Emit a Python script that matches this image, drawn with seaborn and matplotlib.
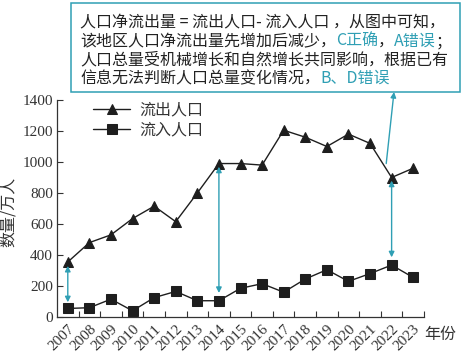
import matplotlib
matplotlib.use("Agg")
import matplotlib.pyplot as plt
from matplotlib.patches import Rectangle
import seaborn as sns
import pandas as pd

# ==============================
# Data
# ==============================
years = list(range(2007, 2024))
outflow = [355, 480, 530, 635, 715, 615, 800, 990, 990, 980, 1205, 1160, 1100, 1180, 1120, 900, 960]
inflow = [55, 60, 115, 40, 125, 165, 105, 105, 185, 215, 160, 245, 305, 230, 280, 335, 255]
y_ticks = [0, 200, 400, 600, 800, 1000, 1200, 1400]

legend_labels = ["流出人口", "流入人口"]
note_lines = [
    [("人口净流出量 = 流出人口- 流入人口 ，从图中可知，", "k")],
    [("该地区人口净流出量先增加后减少，", "k"), ("C正确", "t"), ("，", "k"), ("A错误", "t"), ("；", "k")],
    [("人口总量受机械增长和自然增长共同影响，根据已有", "k")],
    [("信息无法判断人口总量变化情况，", "k"), ("B、D错误", "t")],
]

df = pd.DataFrame({"year": years, "out": outflow, "in": inflow})

# ==============================
# Style
# ==============================
sns.set_style("ticks")
plt.rcParams["font.family"] = ["Noto Sans CJK SC", "DejaVu Sans"]
teal = "#2f9fb4"
ink = "#1e1e1e"
serif = ["Liberation Serif", "DejaVu Serif"]

fig = plt.figure(figsize=(4.64, 3.56), dpi=100)
ax = fig.add_axes([57 / 464, 1 - 317 / 356, 367 / 464, 217 / 356])

sns.lineplot(data=df, x="year", y="out", ax=ax, color=ink, lw=1,
             marker="^", markersize=7.5, markeredgecolor=ink, label=legend_labels[0])
sns.lineplot(data=df, x="year", y="in", ax=ax, color=ink, lw=1,
             marker="s", markersize=7, markeredgecolor=ink, label=legend_labels[1])

ax.set_xlim(2006.5, 2023.5)
ax.set_ylim(0, 1400)
ax.set_yticks(y_ticks)
ax.set_xticks(years)
ax.set_xticks([y + 0.5 for y in years], minor=True)
ax.set_xticklabels([str(y) for y in years], rotation=45, ha="right",
                   rotation_mode="anchor", family=serif, fontsize=11, color="#333333")
ax.set_yticklabels([str(v) for v in y_ticks], family=serif, fontsize=11, color="#333333")
ax.tick_params(axis="x", which="major", length=0, pad=4)
ax.tick_params(axis="x", which="minor", direction="in", length=4, width=0.8, color="#333333")
ax.tick_params(axis="y", direction="in", length=4, width=0.8, color="#333333", pad=3)
ax.set_xlabel("")
ax.set_ylabel("")
for s in ["top", "right"]:
    ax.spines[s].set_visible(False)
for s in ["left", "bottom"]:
    ax.spines[s].set_linewidth(0.9)
    ax.spines[s].set_color("#333333")

ax.legend(loc="upper left", bbox_to_anchor=(0.06, 1.06), frameon=False,
          fontsize=11.5, handlelength=2.3, labelspacing=0.2, handletextpad=0.6,
          labelcolor="#333333")

fig.text(8 / 464, 1 - 212 / 356, "数量/万人", rotation=90, ha="center", va="center",
         fontsize=11.5, color="#333333")
fig.text(440 / 464, 1 - 334 / 356, "年份", ha="center", va="center",
         fontsize=11.5, color="#333333")

# ==============================
# Annotation arrows
# ==============================
arrow2 = dict(arrowstyle="<|-|>", color=teal, lw=1, mutation_scale=8, shrinkA=0, shrinkB=0)
ax.annotate("", xy=(2007, 95), xytext=(2007, 330), arrowprops=arrow2)
ax.annotate("", xy=(2014, 155), xytext=(2014, 970), arrowprops=arrow2)
ax.annotate("", xy=(2022, 385), xytext=(2022, 880), arrowprops=arrow2)
ax.annotate("", xy=(394, 356 - 92), xycoords="figure pixels",
            xytext=(2021.75, 990), textcoords="data",
            arrowprops=dict(arrowstyle="-|>", color=teal, lw=1, mutation_scale=8,
                            shrinkA=0, shrinkB=0))

# ==============================
# Note box with coloured text
# ==============================
fig.patches.append(Rectangle((71 / 464, 1 - 92 / 356), 389 / 464, 89 / 356,
                             transform=fig.transFigure, fill=False,
                             edgecolor=teal, lw=1.1))
line_y = [23, 41.5, 60, 78.5]
for segs, yy in zip(note_lines, line_y):
    prev = None
    for seg, c in segs:
        col = teal if c == "t" else "#222222"
        if prev is None:
            prev = fig.text(80 / 464, 1 - yy / 356, seg, ha="left", va="center",
                            fontsize=11.5, color=col)
        else:
            prev = ax.annotate(seg, xy=(1, 0), xycoords=prev, ha="left", va="bottom",
                               fontsize=11.5, color=col, annotation_clip=False)

fig.savefig("out.png", dpi=100)
